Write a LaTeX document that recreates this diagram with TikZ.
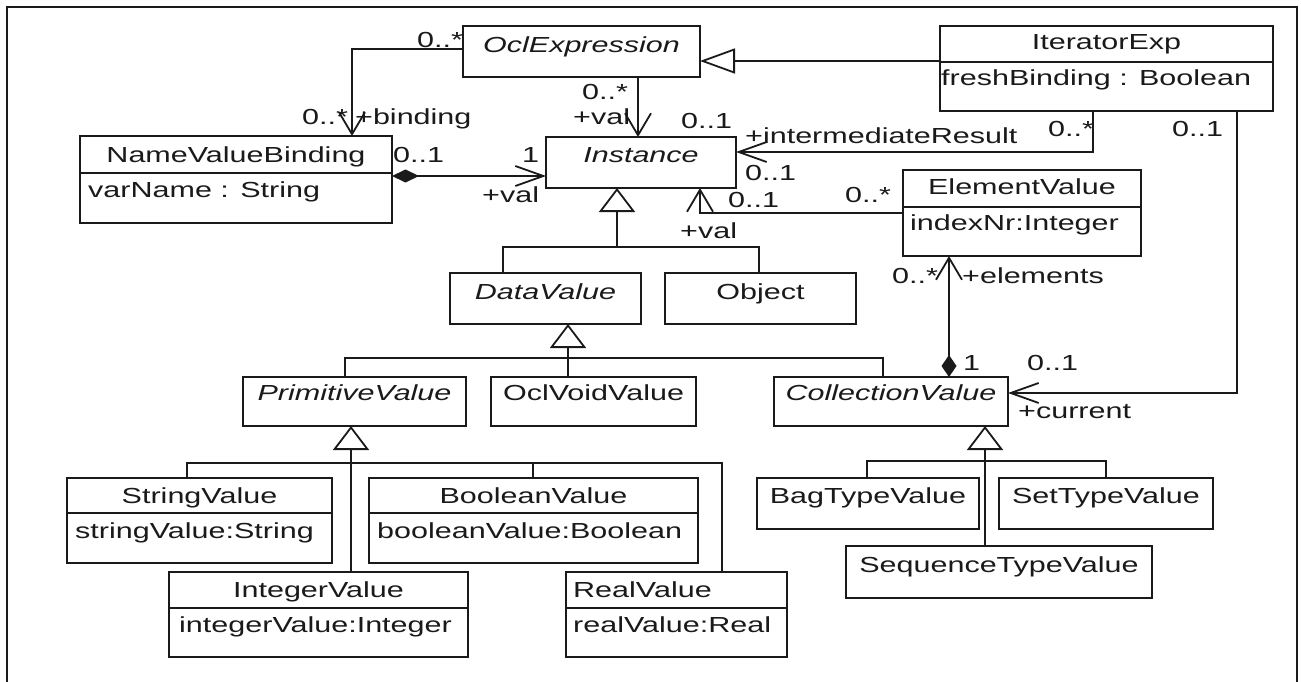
\documentclass[tikz,border=0pt]{standalone}
\usepackage{fontspec}
\setmainfont{Liberation Sans}[FakeStretch=1.4]
\usetikzlibrary{arrows.meta,fit}
\definecolor{ink}{HTML}{1A1A1A}
\tikzset{
  cls/.style={draw=ink, line width=1.8pt, inner sep=0pt, outer sep=0pt, rectangle},
  ttl/.style={anchor=base, inner sep=0pt, text=ink},
  attr/.style={anchor=base west, inner sep=0pt, text=ink},
  lbl/.style={anchor=base west, inner sep=0pt, text=ink},
  wire/.style={draw=ink, line width=1.8pt},
  genh/.style={wire, -{Triangle[length=35pt, width=25pt, fill=white]}},
  genv/.style={wire, -{Triangle[length=24pt, width=36pt, fill=white]}},
  navh/.style={wire, -{Straight Barb[length=28pt, width=20pt]}},
  navv/.style={wire, -{Straight Barb[length=22pt, width=26pt]}},
  comph/.style={wire, {Diamond[length=27pt, width=13pt]}-{Straight Barb[length=28pt, width=20pt]}},
  compv/.style={wire, {Diamond[length=22pt, width=15pt]}-{Straight Barb[length=22pt, width=26pt]}},
}
\begin{document}
\begin{tikzpicture}[x=1pt, y=-1pt, font=\fontsize{21.8pt}{26pt}\selectfont]
\useasboundingbox (0,0) rectangle (1301,682);
\fill[white] (0,0) rectangle (1301,682);

% outer frame (open at the bottom)
\draw[ink, line width=2.4pt] (7,682) -- (7,7) -- (1297,7) -- (1297,682);

% ---------- classes ----------
\node[cls, fit={(463,26) (700,77)}] (oclexp) {};
\node[ttl] (oclexp-t) at (581.5,53) {\itshape OclExpression};

\node[cls, fit={(940,26) (1273,111)}] (iter) {};
\node[ttl] (iter-t) at (1106.5,50) {IteratorExp};
\coordinate (iter-d) at (0,62);
\draw[wire] (iter.west |- iter-d) -- (iter.east |- iter-d);
\node[attr] (iter-a) at (941,86) {freshBinding : Boolean};

\node[cls, fit={(80,136) (392,223)}] (nvb) {};
\node[ttl] (nvb-t) at (236,163) {NameValueBinding};
\coordinate (nvb-d) at (0,173);
\draw[wire] (nvb.west |- nvb-d) -- (nvb.east |- nvb-d);
\node[attr] (nvb-a) at (88,197) {varName : String};

\node[cls, fit={(546,137) (736,188)}] (inst) {};
\node[ttl] (inst-t) at (641,162) {\itshape Instance};

\node[cls, fit={(903,170) (1141,256)}] (elem) {};
\node[ttl] (elem-t) at (1022,194) {ElementValue};
\coordinate (elem-d) at (0,207);
\draw[wire] (elem.west |- elem-d) -- (elem.east |- elem-d);
\node[attr] (elem-a) at (910,230) {indexNr:Integer};

\node[cls, fit={(450,273) (641,324)}] (dv) {};
\node[ttl] (dv-t) at (545.5,299) {\itshape DataValue};

\node[cls, fit={(665,273) (856,324)}] (obj) {};
\node[ttl] (obj-t) at (760.5,299) {Object};

\node[cls, fit={(243,377) (466,426)}] (prim) {};
\node[ttl] (prim-t) at (354.5,400) {\itshape PrimitiveValue};

\node[cls, fit={(491,377) (696,426)}] (voidv) {};
\node[ttl] (voidv-t) at (593.5,400) {OclVoidValue};

\node[cls, fit={(774,377) (1008,426)}] (coll) {};
\node[ttl] (coll-t) at (891,400) {\itshape CollectionValue};

\node[cls, fit={(67,478) (332,563)}] (strv) {};
\node[ttl] (strv-t) at (199.5,503) {StringValue};
\coordinate (strv-d) at (0,513);
\draw[wire] (strv.west |- strv-d) -- (strv.east |- strv-d);
\node[attr] (strv-a) at (75,538) {stringValue:String};

\node[cls, fit={(369,478) (698,563)}] (boolv) {};
\node[ttl] (boolv-t) at (533.5,503) {BooleanValue};
\coordinate (boolv-d) at (0,513);
\draw[wire] (boolv.west |- boolv-d) -- (boolv.east |- boolv-d);
\node[attr] (boolv-a) at (377,538) {booleanValue:Boolean};

\node[cls, fit={(169,572) (468,657)}] (intv) {};
\node[ttl] (intv-t) at (318.5,597) {IntegerValue};
\coordinate (intv-d) at (0,608);
\draw[wire] (intv.west |- intv-d) -- (intv.east |- intv-d);
\node[attr] (intv-a) at (179,632) {integerValue:Integer};

\node[cls, fit={(566,572) (787,657)}] (realv) {};
\node[attr] (realv-t) at (573,597) {RealValue};
\coordinate (realv-d) at (0,608);
\draw[wire] (realv.west |- realv-d) -- (realv.east |- realv-d);
\node[attr] (realv-a) at (573,632) {realValue:Real};

\node[cls, fit={(757,478) (979,529)}] (bag) {};
\node[ttl] (bag-t) at (868,503) {BagTypeValue};

\node[cls, fit={(999,478) (1213,529)}] (set) {};
\node[ttl] (set-t) at (1106,503) {SetTypeValue};

\node[cls, fit={(846,546) (1152,598)}] (seq) {};
\node[ttl] (seq-t) at (999,572) {SequenceTypeValue};

% ---------- generalizations ----------
\coordinate (g-iter) at (0,61);
\draw[genh] (iter.west |- g-iter) -- (oclexp.east |- g-iter);

\coordinate (j1) at (617,247);
\coordinate (j1a) at (503,247);
\coordinate (j1b) at (759,247);
\draw[wire] (dv.north -| j1a) -- (j1a) -- (j1b) -- (obj.north -| j1b);
\draw[genv] (j1) -- (inst.south -| j1);

\coordinate (k1) at (345,358);
\coordinate (k2) at (568,358);
\coordinate (k3) at (883,358);
\draw[wire] (prim.north -| k1) -- (k1) -- (k3) -- (coll.north -| k3);
\draw[genv] (voidv.north -| k2) -- (dv.south -| k2);

\coordinate (m1) at (187,463);
\coordinate (m2) at (351,463);
\coordinate (m3) at (533,463);
\coordinate (m4) at (722,463);
\draw[wire] (strv.north -| m1) -- (m1) -- (m4) -- (realv.north -| m4);
\draw[wire] (boolv.north -| m3) -- (m3);
\draw[genv] (intv.north -| m2) -- (prim.south -| m2);

\coordinate (n1) at (867,461);
\coordinate (n2) at (985,461);
\coordinate (n3) at (1106,461);
\draw[wire] (bag.north -| n1) -- (n1) -- (n3) -- (set.north -| n3);
\draw[genv] (seq.north -| n2) -- (coll.south -| n2);

% ---------- associations ----------
\coordinate (a-bind) at (352,49);
\draw[navv] (oclexp.west |- a-bind) -- (a-bind) -- (nvb.north -| a-bind);

\coordinate (a-val) at (638,100);
\draw[navv] (oclexp.south -| a-val) -- (inst.north -| a-val);

\coordinate (a-nvb) at (0,176);
\draw[comph] (nvb.east |- a-nvb) -- (inst.west |- a-nvb);

\coordinate (a-int) at (1093,152);
\draw[navh] (iter.south -| a-int) -- (a-int) -- (inst.east |- a-int);

\coordinate (a-cur) at (1237,393);
\draw[navh] (iter.south -| a-cur) -- (a-cur) -- (coll.east |- a-cur);

\coordinate (a-elv) at (700,213);
\draw[navv] (elem.west |- a-elv) -- (a-elv) -- (inst.south -| a-elv);

\coordinate (a-els) at (949,300);
\draw[compv] (coll.north -| a-els) -- (elem.south -| a-els);

% ---------- role names and multiplicities ----------
\node[lbl] (l1) at (417,48) {0..*};
\node[lbl] (l2) at (302,125) {0..*};
\node[lbl] (l3) at (355,125) {+binding};
\node[lbl] (l4) at (582,100) {0..*};
\node[lbl] (l5) at (573,125) {+val};
\node[lbl] (l6) at (681,129) {0..1};
\node[lbl] (l7) at (393,163) {0..1};
\node[lbl] (l8) at (522,163) {1};
\node[lbl] (l9) at (482,202) {+val};
\node[lbl] (l10) at (745,143) {+intermediateResult};
\node[lbl] (l11) at (745,180) {0..1};
\node[lbl] (l12) at (1048,137) {0..*};
\node[lbl] (l13) at (1172,137) {0..1};
\node[lbl] (l14) at (728,207) {0..1};
\node[lbl] (l15) at (845,202) {0..*};
\node[lbl] (l16) at (680,238) {+val};
\node[lbl] (l17) at (892,283) {0..*};
\node[lbl] (l18) at (962,283) {+elements};
\node[lbl] (l19) at (963,370) {1};
\node[lbl] (l20) at (1027,370) {0..1};
\node[lbl] (l21) at (1018,418) {+current};
\end{tikzpicture}
\end{document}
